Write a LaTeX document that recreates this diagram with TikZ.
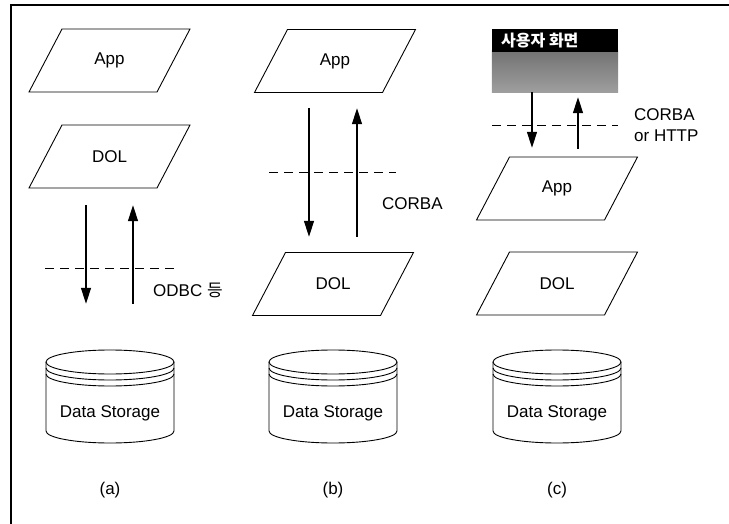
\documentclass[tikz,border=0pt]{standalone}
\usepackage{fontspec}
\setmainfont{Liberation Sans}
\newfontfamily\kr{Noto Sans CJK KR}
\usetikzlibrary{arrows.meta}
\newcommand\mypara[4]{%
  \node[hold] (#1) at (#2,#3) {#4};
  \draw[shp] ([shift={(-47.5,-31.5)}]#1.center) -- ([shift={(80.5,-31.5)}]#1.center)
    -- ([shift={(47.5,31.5)}]#1.center) -- ([shift={(-80.5,31.5)}]#1.center) -- cycle;}
\newcommand\mycyl[2]{%
  \node[inner sep=0pt, minimum width=128pt, minimum height=93pt] (#1) at (#2,396.5) {};
  \node[lbl] (#1t) at (#2,413) {Data Storage};
  \begin{scope}[shift={(#2,0)}]
    \draw[shp] (0,362) ellipse [x radius=64, y radius=12];
    \draw[shp] (-64,368) arc [start angle=180, end angle=0, x radius=64, y radius=12];
    \draw[shp] (-64,374) arc [start angle=180, end angle=0, x radius=64, y radius=12];
    \draw[shp] (-64,362) -- (-64,431) arc [start angle=180, end angle=0, x radius=64, y radius=12] -- (64,362);
  \end{scope}}
\begin{document}
\begin{tikzpicture}[x=1pt,y=-1pt,
  shp/.style={draw,line width=0.9pt},
  lbl/.style={font=\fontsize{17}{20}\selectfont, inner sep=0pt},
  hold/.style={lbl, minimum width=128pt, minimum height=63pt},
  arr/.style={line width=1.3pt,-{Triangle[length=16pt,width=10pt]}},
  sep/.style={line width=1pt, dash pattern=on 9pt off 6pt}]
\useasboundingbox (0,0) rectangle (729,524);
\draw[line width=1.4pt] (11,524) -- (11,5) -- (729,5);

% (a)
\mypara{appA}{109.5}{60.5}{App}
\mypara{dolA}{109.5}{156.5}{DOL}
\mycyl{cylA}{110}
\draw[arr, shorten <=17pt, shorten >=46pt] ([xshift=-23.5pt]dolA.south) -- ([xshift=-23.5pt]dolA.south |- cylA.north);
\draw[arr, shorten <=46pt, shorten >=17pt] ([xshift=23.5pt]dolA.south |- cylA.north) -- ([xshift=23.5pt]dolA.south);
\draw[sep] (45,268) -- (175,268);
\node[lbl, anchor=west] (odbc) at (153,290) {ODBC {\kr 등}};
\node[lbl] (capA) at (110,490) {(a)};

% (b)
\mypara{appB}{335}{61}{App}
\mypara{dolB}{333}{284}{DOL}
\mycyl{cylB}{333}
\draw[arr, shorten <=15.5pt, shorten >=15.5pt] ([xshift=-26pt]appB.south) -- ([xshift=-26pt]appB.south |- dolB.north);
\draw[arr, shorten <=15.5pt, shorten >=15.5pt] ([xshift=22pt]appB.south |- dolB.north) -- ([xshift=22pt]appB.south);
\draw[sep] (269,173) -- (396,173);
\node[lbl, anchor=west] (corbaB) at (382,204) {CORBA};
\node[lbl] (capB) at (333,490) {(b)};

% (c)
\node[inner sep=0pt, minimum width=126pt, minimum height=63pt] (scr) at (555,60.5) {};
\shade[top color=black!55, bottom color=black!38] ([yshift=-22pt]scr.north west) rectangle (scr.south east);
\fill[black] (scr.north west) rectangle ([yshift=-23pt]scr.north east);
\node[anchor=west, text=white, inner sep=0pt, font=\kr\bfseries\fontsize{16}{18}\selectfont] (scrt) at (501,41) {사용자 화면};
\mypara{appC}{557}{188.5}{App}
\mypara{dolC}{557}{283.5}{DOL}
\mycyl{cylC}{557}
\draw[arr, shorten >=9pt] ([xshift=-23pt]scr.south) -- ([xshift=-23pt]scr.south |- appC.north);
\draw[arr, shorten <=8pt, shorten >=5pt] ([xshift=23pt]scr.south |- appC.north) -- ([xshift=23pt]scr.south);
\draw[sep] (492,126) -- (618,126);
\node[lbl, anchor=west] (corbaC) at (634,115) {CORBA};
\node[lbl, anchor=west] (httpC) at (634,136) {or HTTP};
\node[lbl] (capC) at (557,490) {(c)};
\end{tikzpicture}
\end{document}
